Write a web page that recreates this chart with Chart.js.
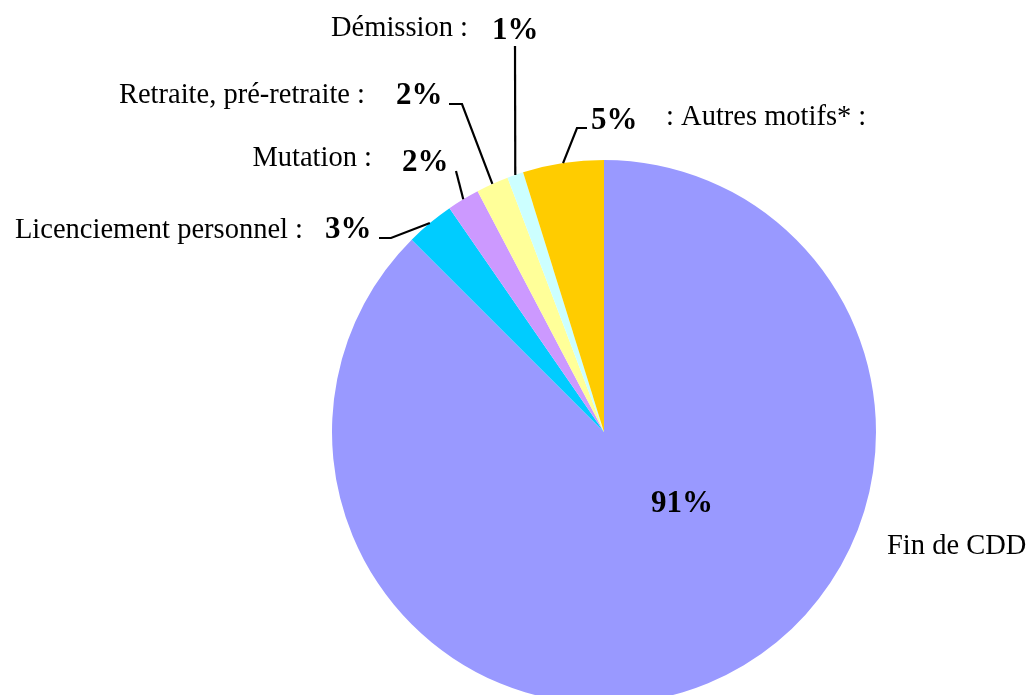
<!DOCTYPE html>
<html lang="fr">
<head>
<meta charset="utf-8">
<title>Motifs de départ</title>
<script src="https://cdn.jsdelivr.net/npm/chart.js@4.4.0/dist/chart.umd.min.js"></script>
<style>
  html, body {
    margin: 0;
    padding: 0;
    background: #ffffff;
    overflow: hidden;
  }
  #wrap {
    width: 1034px;
    height: 695px;
    overflow: hidden;
  }
</style>
</head>
<body>
<div id="wrap">
  <canvas id="motifsChart" width="1034" height="704"></canvas>
</div>
<script>
const categories = [
  "Fin de CDD",
  "Licenciement personnel :",
  "Mutation :",
  "Retraite, pré-retraite :",
  "Démission :",
  ": Autres motifs* :",
];
const percentages = [91, 3, 2, 2, 1, 5];
const sliceColors = ["#9999FF", "#00CCFF", "#CC99FF", "#FFFF99", "#CCFFFF", "#FFCC00"];

// Where each label sits and how its leader line bends (null = label inside the slice)
const labelLayout = [
  { name: [887, 554, "left"], value: [682, 512, "center"], leader: null },
  { name: [303, 238, "right"], value: [325, 238, "left"], leader: [[391, 238], [379, 238]] },
  { name: [372, 166, "right"], value: [402, 171, "left"], leader: [[456, 171]] },
  { name: [365, 103, "right"], value: [396, 104, "left"], leader: [[462, 104], [449, 104]] },
  { name: [468, 36, "right"], value: [492, 39, "left"], leader: [[515, 46]] },
  { name: [666, 125, "left"], value: [591, 129, "left"], leader: [[577, 128], [587, 128]] },
];

const pieLabels = {
  id: "pieLabels",
  afterDraw(chart) {
    const ctx = chart.ctx;
    const arcs = chart.getDatasetMeta(0).data;
    ctx.save();
    ctx.fillStyle = "#000000";
    ctx.strokeStyle = "#000000";
    ctx.lineWidth = 2.2;
    ctx.textBaseline = "alphabetic";

    arcs.forEach((arc, i) => {
      const layout = labelLayout[i];
      const { x, y, startAngle, endAngle, outerRadius } = arc.getProps(
        ["x", "y", "startAngle", "endAngle", "outerRadius"],
        true
      );

      if (layout.leader) {
        const mid = (startAngle + endAngle) / 2;
        ctx.beginPath();
        ctx.moveTo(x + Math.cos(mid) * outerRadius, y + Math.sin(mid) * outerRadius);
        layout.leader.forEach(([lx, ly]) => ctx.lineTo(lx, ly));
        ctx.stroke();
      }

      ctx.font = "28.5px 'Liberation Serif', 'Times New Roman', serif";
      ctx.textAlign = layout.name[2];
      ctx.fillText(categories[i], layout.name[0], layout.name[1]);

      ctx.font = "bold 31px 'Liberation Serif', 'Times New Roman', serif";
      ctx.textAlign = layout.value[2];
      ctx.fillText(percentages[i] + "%", layout.value[0], layout.value[1]);
    });
    ctx.restore();
  },
};

const ctx = document.getElementById("motifsChart").getContext("2d");
const chart = new Chart(ctx, {
  type: "pie",
  data: {
    labels: categories,
    datasets: [
      {
        data: percentages,
        backgroundColor: sliceColors,
        borderWidth: 0,
        hoverOffset: 0,
      },
    ],
  },
  options: {
    responsive: false,
    devicePixelRatio: 1,
    animation: false,
    layout: {
      padding: { left: 332, right: 158, top: 160, bottom: 0 },
    },
    plugins: {
      legend: { display: false },
      tooltip: { enabled: false },
    },
  },
  plugins: [pieLabels],
});
</script>
</body>
</html>
